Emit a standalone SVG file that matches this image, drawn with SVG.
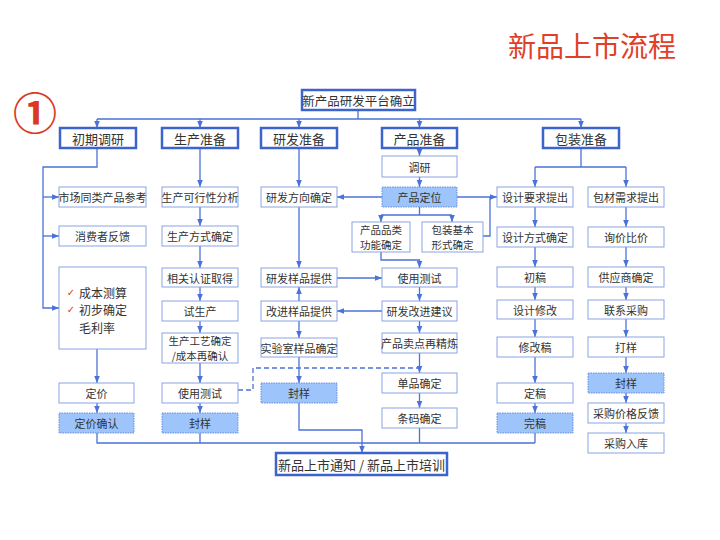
<svg xmlns="http://www.w3.org/2000/svg" width="720" height="540" viewBox="0 0 720 540">
<defs>
<style>
.hdr{fill:#fff;stroke:#3d64cc;stroke-width:2.5}
.box{fill:#fff;stroke:#8aa3e2;stroke-width:1}
.fil{fill:#9dc5fb;stroke:#6a8fdc;stroke-width:1;stroke-dasharray:1.5 1}
text{font-family:"Noto Sans CJK SC","Noto Sans",sans-serif;fill:#333;text-anchor:middle;dominant-baseline:central}
.t{font-size:11px}
.t2{font-size:10.5px}
.th{font-size:13px}
.big{font-size:12.5px;text-anchor:start}
.chk{font-size:10px;fill:#d8391f;font-family:"DejaVu Sans",sans-serif}
.ln{fill:none;stroke:#4a72d8;stroke-width:1.3}
.ar{fill:none;stroke:#4a72d8;stroke-width:1.3;marker-end:url(#ah)}
.dash{fill:none;stroke:#4a72d8;stroke-width:1.3;stroke-dasharray:5 3}
</style>
<marker id="ah" viewBox="0 0 10 10" refX="10" refY="5" markerWidth="7" markerHeight="7" orient="auto" markerUnits="userSpaceOnUse"><path d="M0,1 L10,5 L0,9 z" fill="#4a72d8"/></marker>
</defs>
<rect width="720" height="540" fill="#fff"/>
<text x="508" y="45" style="font-size:28px;fill:#e0402a;text-anchor:start">新品上市流程</text>
<text x="35" y="111" style="font-size:44px;fill:#d8391f;font-weight:bold">①</text>

<g id="connectors">
<path class="ln" d="M358,110 V119 M97,119 H581"/>
<path class="ar" d="M97,119 V128"/><path class="ar" d="M200,119 V128"/><path class="ar" d="M299,119 V128"/><path class="ar" d="M419.5,119 V128"/><path class="ar" d="M581,119 V128"/>
<path class="ar" d="M97,148 V167 H43 V308 H59"/>
<path class="ar" d="M43,197 H59"/><path class="ar" d="M43,236 H59"/>
<path class="ar" d="M97,349 V383"/><path class="ar" d="M97,403 V413"/>
<path class="ar" d="M200,148 V187"/><path class="ar" d="M200,207 V226"/><path class="ar" d="M200,246 V268"/><path class="ar" d="M200,287 V301"/><path class="ar" d="M200,321 V333"/><path class="ar" d="M200,363 V383"/><path class="ar" d="M200,403 V413"/>
<path class="dash" d="M238,390 H253 V368 H419.5"/>
<path class="ar" d="M299,148 V187"/><path class="ar" d="M299,207 V268"/><path class="ar" d="M299,301 V287"/><path class="ar" d="M299,321 V338"/><path class="ar" d="M299,357 V383"/>
<path class="ar" d="M299,403 V430 H362 V453"/>
<path class="ar" d="M382,197 H337"/><path class="ar" d="M337,278 H382"/><path class="ar" d="M382,311 H337"/>
<path class="ar" d="M419.5,148 V156"/><path class="ar" d="M419.5,177 V187"/>
<path class="ln" d="M419.5,207 V215 M381,215 H452"/>
<path class="ar" d="M381,215 V222"/><path class="ar" d="M452,215 V222"/>
<path class="ar" d="M381,252 V260 H419.5 V268"/>
<path class="ar" d="M457,197 H497"/><path class="ln" d="M483,236 H490 V197"/>
<path class="ar" d="M419.5,287 V301"/><path class="ar" d="M419.5,321 V333"/><path class="ar" d="M419.5,353 V373"/><path class="ar" d="M419.5,393 V408"/>
<path class="ln" d="M97,433 V443 H535 M200,433 V443 M419.5,428 V443 M535,433 V443"/>
<path class="ln" d="M581,148 V167 M535,167 H626"/>
<path class="ar" d="M535,167 V187"/><path class="ar" d="M626,167 V187"/>
<path class="ar" d="M535,207 V227"/><path class="ar" d="M535,247 V267"/><path class="ar" d="M535,287 V300"/><path class="ar" d="M535,319 V337"/><path class="ar" d="M535,357 V383"/><path class="ar" d="M535,403 V413"/>
<path class="ar" d="M626,207 V227"/><path class="ar" d="M626,247 V267"/><path class="ar" d="M626,287 V300"/><path class="ar" d="M626,319 V337"/><path class="ar" d="M626,357 V373"/><path class="ar" d="M626,393 V403"/><path class="ar" d="M626,423 V433"/>
</g>

<g id="n-top"><rect class="hdr" x="302" y="90" width="113" height="20"/><text class="th" x="358.5" y="100" style="font-size:12.5px">新产品研发平台确立</text></g>
<g id="h1"><rect class="hdr" x="60" y="128" width="76" height="20"/><text class="th" x="98" y="138">初期调研</text></g>
<g id="h2"><rect class="hdr" x="162" y="128" width="76" height="20"/><text class="th" x="200" y="138">生产准备</text></g>
<g id="h3"><rect class="hdr" x="261" y="128" width="76" height="20"/><text class="th" x="299" y="138">研发准备</text></g>
<g id="h4"><rect class="hdr" x="382" y="128" width="75" height="20"/><text class="th" x="419.5" y="138">产品准备</text></g>
<g id="h5"><rect class="hdr" x="543" y="128" width="76" height="20"/><text class="th" x="581" y="138">包装准备</text></g>

<g id="c1a"><rect class="box" x="59" y="187" width="87" height="20"/><text class="t" x="102.5" y="197">市场同类产品参考</text></g>
<g id="c1b"><rect class="box" x="59" y="226" width="87" height="20"/><text class="t" x="102.5" y="236">消费者反馈</text></g>
<g id="c1c"><rect class="box" x="59" y="267" width="87" height="82"/>
<text class="chk" x="71" y="292">✓</text>
<text class="chk" x="71" y="309.5">✓</text>
<text class="big" x="79" y="292" style="font-size:12px">成本测算</text>
<text class="big" x="79" y="309.5" style="font-size:12px">初步确定</text>
<text class="big" x="79" y="327" style="font-size:12px">毛利率</text></g>
<g id="c1d"><rect class="box" x="59" y="383" width="75" height="20"/><text class="t" x="96.5" y="393">定价</text></g>
<g id="c1e"><rect class="fil" x="59" y="413" width="75" height="20"/><text class="t" x="96.5" y="423">定价确认</text></g>

<g id="c2a"><rect class="box" x="162" y="187" width="76" height="20"/><text class="t" x="200" y="197">生产可行性分析</text></g>
<g id="c2b"><rect class="box" x="162" y="226" width="76" height="20"/><text class="t" x="200" y="236">生产方式确定</text></g>
<g id="c2c"><rect class="box" x="162" y="268" width="76" height="19"/><text class="t" x="200" y="277.5">相关认证取得</text></g>
<g id="c2d"><rect class="box" x="162" y="301" width="76" height="20"/><text class="t" x="200" y="311">试生产</text></g>
<g id="c2e"><rect class="box" x="162" y="333" width="76" height="30"/><text class="t2" x="200" y="340.5">生产工艺确定</text><text class="t2" x="200" y="355.5">/成本再确认</text></g>
<g id="c2f"><rect class="box" x="162" y="383" width="76" height="20"/><text class="t" x="200" y="393">使用测试</text></g>
<g id="c2g"><rect class="fil" x="162" y="413" width="76" height="20"/><text class="t" x="200" y="423">封样</text></g>

<g id="c3a"><rect class="box" x="261" y="187" width="76" height="20"/><text class="t" x="299" y="197">研发方向确定</text></g>
<g id="c3b"><rect class="box" x="261" y="268" width="76" height="19"/><text class="t" x="299" y="277.5">研发样品提供</text></g>
<g id="c3c"><rect class="box" x="261" y="301" width="76" height="20"/><text class="t" x="299" y="311">改进样品提供</text></g>
<g id="c3d"><rect class="box" x="261" y="338" width="76" height="19"/><text class="t" x="299" y="347.5">实验室样品确定</text></g>
<g id="c3e"><rect class="fil" x="261" y="383" width="76" height="20"/><text class="t" x="299" y="393">封样</text></g>

<g id="c4a"><rect class="box" x="382" y="156" width="75" height="21"/><text class="t" x="419.5" y="166.5">调研</text></g>
<g id="c4b"><rect class="fil" x="382" y="187" width="75" height="20"/><text class="t" x="419.5" y="197">产品定位</text></g>
<g id="c4c"><rect class="box" x="352" y="222" width="58" height="30"/><text class="t2" x="381" y="229.5">产品品类</text><text class="t2" x="381" y="244.5">功能确定</text></g>
<g id="c4d"><rect class="box" x="422" y="222" width="61" height="30"/><text class="t2" x="452.5" y="229.5">包装基本</text><text class="t2" x="452.5" y="244.5">形式确定</text></g>
<g id="c4e"><rect class="box" x="382" y="268" width="75" height="19"/><text class="t" x="419.5" y="277.5">使用测试</text></g>
<g id="c4f"><rect class="box" x="382" y="301" width="75" height="20"/><text class="t" x="419.5" y="311">研发改进建议</text></g>
<g id="c4g"><rect class="box" x="382" y="333" width="75" height="20"/><text class="t" x="419.5" y="343">产品卖点再精炼</text></g>
<g id="c4h"><rect class="box" x="382" y="373" width="75" height="20"/><text class="t" x="419.5" y="383">单品确定</text></g>
<g id="c4i"><rect class="box" x="382" y="408" width="75" height="20"/><text class="t" x="419.5" y="418">条码确定</text></g>

<g id="c5a1"><rect class="box" x="497" y="187" width="76" height="20"/><text class="t" x="535" y="197">设计要求提出</text></g>
<g id="c5a2"><rect class="box" x="497" y="227" width="76" height="20"/><text class="t" x="535" y="237">设计方式确定</text></g>
<g id="c5a3"><rect class="box" x="497" y="267" width="76" height="20"/><text class="t" x="535" y="277">初稿</text></g>
<g id="c5a4"><rect class="box" x="497" y="300" width="76" height="19"/><text class="t" x="535" y="309.5">设计修改</text></g>
<g id="c5a5"><rect class="box" x="497" y="337" width="76" height="20"/><text class="t" x="535" y="347">修改稿</text></g>
<g id="c5a6"><rect class="box" x="497" y="383" width="76" height="20"/><text class="t" x="535" y="393">定稿</text></g>
<g id="c5a7"><rect class="fil" x="497" y="413" width="76" height="20"/><text class="t" x="535" y="423">完稿</text></g>

<g id="c5b1"><rect class="box" x="588" y="187" width="76" height="20"/><text class="t" x="626" y="197">包材需求提出</text></g>
<g id="c5b2"><rect class="box" x="588" y="227" width="76" height="20"/><text class="t" x="626" y="237">询价比价</text></g>
<g id="c5b3"><rect class="box" x="588" y="267" width="76" height="20"/><text class="t" x="626" y="277">供应商确定</text></g>
<g id="c5b4"><rect class="box" x="588" y="300" width="76" height="19"/><text class="t" x="626" y="309.5">联系采购</text></g>
<g id="c5b5"><rect class="box" x="588" y="337" width="76" height="20"/><text class="t" x="626" y="347">打样</text></g>
<g id="c5b6"><rect class="fil" x="588" y="373" width="76" height="20"/><text class="t" x="626" y="383">封样</text></g>
<g id="c5b7"><rect class="box" x="588" y="403" width="76" height="20"/><text class="t" x="626" y="413">采购价格反馈</text></g>
<g id="c5b8"><rect class="box" x="588" y="433" width="76" height="20"/><text class="t" x="626" y="443">采购入库</text></g>

<g id="n-bottom"><rect class="hdr" x="276" y="453" width="171" height="22"/><text class="th" x="361.5" y="464">新品上市通知 / 新品上市培训</text></g>
</svg>
